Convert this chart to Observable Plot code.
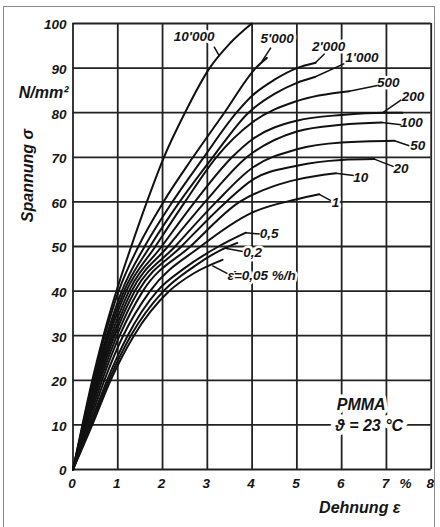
<!DOCTYPE html>
<html>
<head>
<meta charset="utf-8">
<script src="https://cdn.jsdelivr.net/npm/d3@7"></script>
<script src="https://cdn.jsdelivr.net/npm/@observablehq/plot@0.6"></script>
<style>
  html, body { margin: 0; padding: 0; background: #fff; }
  #wrap { position: relative; width: 440px; height: 527px; overflow: hidden; }
  #frame { position: absolute; left: 3px; top: 6px; width: 432px; height: 540px;
           border: 1.5px solid #8a8a8a; border-bottom: none; box-sizing: border-box; }
  #chart { position: absolute; left: 0; top: 0; }
</style>
</head>
<body>
<div id="wrap"><div id="frame"></div><div id="chart"></div></div>
<script>
// ---- Data (strain in %, stress in N/mm²) ----
const rateLabels = ["10'000", "5'000", "2'000", "1'000", "500", "200", "100", "50", "20", "10", "1", "0,5", "0,2", "0,05"];

const strain_10000 = [0, 0.21, 0.43, 0.68, 0.97, 1.30, 1.65, 2.03, 2.50, 3.05, 3.50, 3.99];
const stress_10000 = [0, 10, 20, 30, 40, 50, 60, 70, 80, 90, 95.5, 100];
const strain_5000 = [0, 0.22, 0.45, 0.71, 1.02, 1.46, 2.02, 2.68, 3.38, 4.08, 4.33];
const stress_5000 = [0, 10, 20, 30, 40, 50, 60, 70, 80, 90, 92.3];
const strain_2000 = [0, 0.23, 0.47, 0.75, 1.09, 1.60, 2.22, 2.92, 3.65, 4.0, 4.5, 5.0, 5.42];
const stress_2000 = [0, 10, 20, 30, 40, 50, 60, 70, 80, 83.8, 87.4, 90.0, 91.2];
const strain_1000 = [0, 0.24, 0.49, 0.78, 1.14, 1.72, 2.38, 3.12, 3.92, 4.5, 5.0, 5.40];
const stress_1000 = [0, 10, 20, 30, 40, 50, 60, 70, 80, 84.2, 86.7, 88.0];
const strain_500 = [0, 0.25, 0.51, 0.81, 1.19, 1.84, 2.50, 3.20, 4.0, 5.0, 6.17];
const stress_500 = [0, 10, 20, 30, 40, 50, 60, 70, 77.8, 82.6, 84.8];
const strain_200 = [0, 0.26, 0.53, 0.85, 1.25, 1.98, 2.72, 3.55, 4.0, 5.0, 6.0, 7.0, 7.36];
const stress_200 = [0, 10, 20, 30, 40, 50, 60, 70, 74.0, 78.2, 79.5, 80.0, 80.0];
const strain_100 = [0, 0.27, 0.55, 0.89, 1.31, 2.12, 2.95, 3.88, 5.0, 6.0, 6.90];
const stress_100 = [0, 10, 20, 30, 40, 50, 60, 70, 75.8, 77.3, 77.8];
const strain_50 = [0, 0.28, 0.58, 0.93, 1.38, 2.28, 3.20, 4.0, 5.0, 6.0, 7.18];
const stress_50 = [0, 10, 20, 30, 40, 50, 60, 67.6, 71.8, 73.3, 73.7];
const strain_20 = [0, 0.30, 0.61, 0.98, 1.46, 2.42, 3.42, 4.0, 5.0, 6.0, 6.73];
const stress_20 = [0, 10, 20, 30, 40, 50, 60, 64.9, 68.1, 69.4, 69.6];
const strain_10 = [0, 0.32, 0.65, 1.04, 1.56, 2.62, 3.72, 4.5, 5.0, 5.87];
const stress_10 = [0, 10, 20, 30, 40, 50, 60, 63.6, 65.0, 66.4];
const strain_1 = [0, 0.35, 0.70, 1.12, 1.72, 2.85, 4.0, 5.0, 5.50];
const stress_1 = [0, 10, 20, 30, 40, 50, 57.6, 60.6, 61.7];
const strain_05 = [0, 0.38, 0.76, 1.22, 1.88, 2.50, 3.25, 3.86];
const stress_05 = [0, 10, 20, 30, 40, 45.2, 50.0, 53.1];
const strain_02 = [0, 0.40, 0.80, 1.29, 2.02, 2.70, 3.30, 3.67];
const stress_02 = [0, 10, 20, 30, 40, 45.5, 49.2, 50.8];
const strain_005 = [0, 0.43, 0.84, 1.36, 2.15, 2.70, 3.34];
const stress_005 = [0, 10, 20, 30, 40, 44.0, 47.0];

// curve labels (text, anchor point in data units) and leader lines
const labelTexts = ["10'000", "5'000", "2'000", "1'000", "500", "200", "100", "50", "20", "10", "1", "0,5", "0,2", "\u03B5\u0307=0,05 %/h"];
const labelStrain = [2.25, 4.19, 5.34, 6.08, 6.79, 7.34, 7.31, 7.53, 7.16, 6.26, 5.78, 4.17, 3.80, 3.45];
const labelStress = [97.1, 96.7, 94.7, 92.3, 86.8, 83.5, 77.7, 72.6, 67.4, 65.5, 59.9, 52.8, 48.7, 43.5];
const leaderStrain1 = [3.15, 4.42, 5.62, 6.06, 6.80, 7.33, 7.33, 7.51, 7.16, 6.27, 5.76, 4.17, 3.79, 3.45];
const leaderStress1 = [94.8, 94.6, 93.2, 91.0, 86.1, 82.9, 77.3, 72.6, 67.9, 65.9, 60.3, 52.8, 48.9, 43.9];
const leaderStrain2 = [3.27, 4.22, 5.40, 5.40, 6.17, 6.92, 6.90, 7.18, 6.73, 5.87, 5.50, 3.86, 3.40, 3.11];
const leaderStress2 = [92.7, 91.5, 91.1, 88.0, 84.8, 80.0, 77.8, 73.7, 69.6, 66.4, 61.7, 53.1, 49.6, 45.7];

const xTicks = [0, 1, 2, 3, 4, 5, 6, 7, 8];
const yTicks = [0, 10, 20, 30, 40, 50, 60, 70, 80, 90, 100];

// ---- build tables ----
const curveStrains = [strain_10000, strain_5000, strain_2000, strain_1000, strain_500, strain_200, strain_100, strain_50, strain_20, strain_10, strain_1, strain_05, strain_02, strain_005];
const curveStresses = [stress_10000, stress_5000, stress_2000, stress_1000, stress_500, stress_200, stress_100, stress_50, stress_20, stress_10, stress_1, stress_05, stress_02, stress_005];
const curves = rateLabels.flatMap((r, i) => curveStrains[i].map((s, j) => ({rate: r, strain: s, stress: curveStresses[i][j]})));
const labels = labelTexts.map((t, i) => ({text: t, x: labelStrain[i], y: labelStress[i]}));
const leaders = labelTexts.map((t, i) => ({x1: leaderStrain1[i], y1: leaderStress1[i], x2: leaderStrain2[i], y2: leaderStress2[i]}));

const FONT = "'Liberation Sans', Arial, Helvetica, sans-serif";
const INK = "#151515";
const T = {fill: INK, fontWeight: "bold", fontStyle: "italic", lineAnchor: "middle"};

const chart = Plot.plot({
  width: 440,
  height: 527,
  marginLeft: 72.5,
  marginRight: 9.3,
  marginTop: 23,
  marginBottom: 58,
  style: {fontFamily: FONT, background: "transparent", overflow: "visible"},
  x: {domain: [0, 8], axis: null},
  y: {domain: [0, 100], axis: null},
  marks: [
    Plot.ruleX(xTicks, {stroke: "#222", strokeWidth: 1.8}),
    Plot.ruleY(yTicks, {stroke: "#222", strokeWidth: 1.8}),
    // curve labels with white halo (interrupts grid lines like the original)
    Plot.text(labels, {x: "x", y: "y", text: "text", textAnchor: "start", stroke: "white", strokeWidth: 5,
      fontSize: 13.5, ...T}),
    // PMMA annotation
    Plot.text(["PMMA"], {frameAnchor: "bottom-right", dx: -70, dy: -65, textAnchor: "middle", stroke: "white", strokeWidth: 7,
      fontSize: 16, ...T}),
    Plot.text(["\u03D1 = 23 \u00B0C"], {frameAnchor: "bottom-right", dx: -62, dy: -44, textAnchor: "middle", stroke: "white", strokeWidth: 9,
      fontSize: 16, ...T}),
    // curves
    Plot.line(curves, {x: "strain", y: "stress", z: "rate", curve: "monotone-x", stroke: "#111", strokeWidth: 2}),
    Plot.link(leaders, {x1: "x1", y1: "y1", x2: "x2", y2: "y2", stroke: "#111", strokeWidth: 1.5}),
    // axes tick labels
    Plot.text(yTicks, {x: 0, y: d => d, dx: -6.5, dy: 1.5, textAnchor: "end", fontSize: 13.5, ...T}),
    Plot.text(xTicks, {x: d => d, y: 0, dy: 14, dx: -1, textAnchor: "middle", fontSize: 13.5, ...T}),
    Plot.text(["%"], {frameAnchor: "bottom-right", dx: -25.7, dy: 14, textAnchor: "middle", fontSize: 13.5, ...T}),
    Plot.text(["Dehnung \u03B5"], {frameAnchor: "bottom-right", dx: -30.7, dy: 38, textAnchor: "end", fontSize: 16, ...T}),
    Plot.text(["N/mm\u00B2"], {frameAnchor: "top-left", dx: -4.5, dy: 69, textAnchor: "end", fontSize: 16, ...T}),
    Plot.text(["Spannung \u03C3"], {frameAnchor: "left", dx: -45.5, dy: -71, rotate: -90, textAnchor: "middle", fontSize: 16, ...T})
  ]
});
document.getElementById("chart").appendChild(chart);
</script>
</body>
</html>
